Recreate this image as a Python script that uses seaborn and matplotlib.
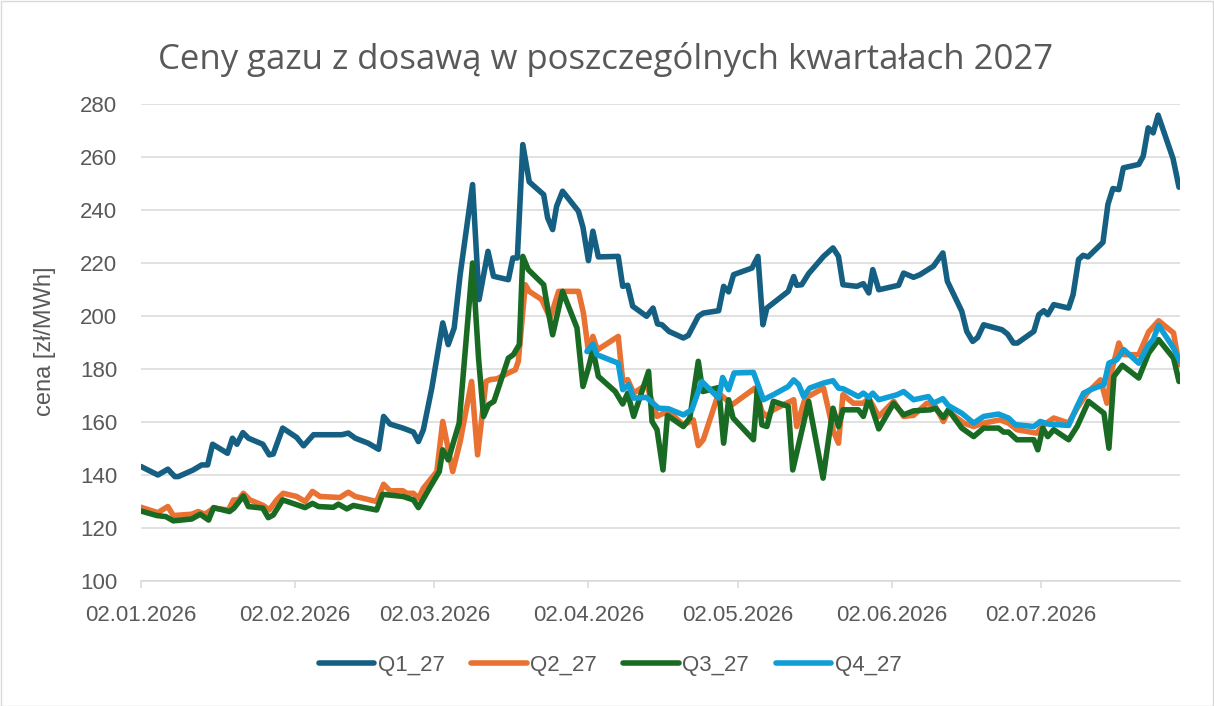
import numpy as np
import pandas as pd
import matplotlib
matplotlib.use("Agg")
import matplotlib.pyplot as plt
import matplotlib.dates as mdates
import seaborn as sns
from matplotlib.patches import Rectangle
from matplotlib.lines import Line2D

# ---------------- data ----------------
base_date = "2026-01-02"
title = "Ceny gazu z dosawą w poszczególnych kwartałach 2027"
y_label = "cena [zł/MWh]"
series_names = ["Q1_27", "Q2_27", "Q3_27", "Q4_27"]
colors = ["#156082", "#E97132", "#196B24", "#0F9ED5"]

# day offsets from base_date and prices
q1_days = [0, 3.4, 5.4, 6.8, 7.5, 10.5, 12.2, 13.4, 14.4, 17.4, 18.4, 19.3, 20.5, 21.6,
           24.5, 25.8, 26.6, 28.5, 31.3, 32.7, 34.7, 40.4, 41.7, 43.1, 45.7, 47.8, 48.8,
           50.1, 52.7, 54.8, 55.8, 56.8, 58.5, 60.7, 61.8, 63.0, 64.2, 66.7, 68.0, 69.8,
           70.9, 73.9, 74.8, 75.7, 76.8, 78.1, 81.0, 81.8, 82.8, 83.6, 84.8, 88.0, 88.9,
           90.0, 90.9, 92.0, 96.0, 96.9, 97.9, 98.9, 101.7, 103.0, 103.9, 104.8, 106.2,
           109.1, 110.1, 112.1, 113.1, 116.2, 117.2, 118.2, 119.2, 122.9, 124.1, 125.1,
           125.9, 130.2, 131.3, 131.9, 132.9, 134.3, 137.3, 139.2, 140.3, 141.2, 144.0,
           145.3, 146.4, 147.2, 148.4, 152.4, 153.4, 155.4, 156.7, 159.4, 161.3, 162.2,
           165.1, 166.1, 167.3, 168.3, 169.5, 173.2, 174.3, 175.5, 176.3, 179.6, 180.6,
           181.6, 182.4, 183.6, 186.6, 187.5, 188.6, 189.5, 190.5, 193.5, 194.5, 195.5,
           196.7, 197.6, 200.7, 201.6, 202.6, 203.6, 204.6, 207.6, 208.8]
q1_vals = [143.2, 140.0, 142.2, 139.4, 139.4, 141.9, 143.8, 143.8, 151.6, 148.2, 153.9, 151.6, 156.0, 153.9,
           151.6, 147.6, 147.9, 157.7, 154.2, 151.0, 155.2, 155.2, 155.8, 153.9, 152.0, 149.7, 162.1,
           159.2, 157.7, 156.2, 152.6, 157.1, 172.8, 197.4, 189.2, 195.5, 215.6, 249.6, 206.2, 224.4,
           215.0, 213.7, 221.9, 221.9, 264.7, 250.6, 245.8, 237.0, 232.6, 241.4, 247.1, 239.5, 233.5,
           220.9, 232.0, 222.3, 222.5, 211.2, 211.6, 203.7, 199.9, 203.0, 197.0, 196.7, 194.2,
           191.7, 192.7, 199.9, 201.1, 202.0, 211.2, 209.1, 215.6, 218.1, 222.5, 196.7,
           203.0, 209.3, 214.9, 211.6, 211.8, 216.0, 222.5, 225.7, 222.5, 211.8, 211.2,
           212.2, 208.7, 217.5, 209.9, 211.6, 216.2, 214.6, 215.6, 218.8, 223.8, 213.1,
           201.8, 194.2, 190.4, 191.9, 196.7, 194.8, 193.2, 189.8, 189.8, 194.2, 200.5,
           202.0, 200.5, 204.3, 203.0, 208.1, 221.3, 222.9, 222.3, 227.8, 242.1, 248.1,
           247.7, 255.9, 257.2, 260.3, 271.0, 269.1, 275.8, 259.4, 248.6]

q2_days = [0, 3.4, 5.4, 6.5, 10.2, 11.5, 12.9, 14.6, 17.6, 18.6, 19.6, 20.6, 21.9, 24.6,
           25.8, 27.3, 28.6, 31.3, 33.0, 34.5, 36.0, 40.0, 41.7, 43.1, 47.4, 48.8, 50.1,
           52.6, 53.5, 54.8, 55.8, 56.8, 59.5, 60.7, 62.7, 64.2, 66.5, 67.7, 69.4, 70.2,
           71.6, 73.9, 75.3, 75.9, 77.3, 78.1, 80.6, 82.3, 84.0, 88.0, 89.0, 90.0, 90.9,
           91.8, 96.0, 96.9, 97.9, 99.1, 101.7, 103.8, 105.1, 106.3, 109.1, 111.1, 112.1,
           113.1, 116.2, 118.9, 123.5, 124.9, 125.8, 127.2, 131.3, 131.9, 133.6, 137.3,
           139.3, 140.3, 141.2, 143.3, 145.3, 146.4, 148.4, 151.4, 153.4, 155.4, 158.1,
           159.8, 161.4, 162.4, 165.5, 167.5, 169.5, 172.8, 174.5, 176.2, 180.2, 181.2,
           183.6, 186.6, 188.3, 190.3, 193.0, 194.3, 195.3, 196.7, 197.7, 200.7, 202.7,
           204.7, 207.7, 208.8]
q2_vals = [127.8, 125.8, 128.1, 124.7, 125.2, 126.2, 125.2, 127.5, 126.8, 130.6, 130.6, 133.1, 130.6, 128.5,
           126.8, 130.6, 133.1, 131.9, 130.0, 133.8, 131.9, 131.5, 133.5, 131.9, 130.0, 136.5, 134.0,
           134.1, 133.1, 133.1, 131.2, 135.0, 141.3, 160.2, 141.3, 152.6, 175.3, 147.6, 175.3, 176.0,
           176.3, 178.5, 179.7, 182.9, 211.8, 209.3, 206.2, 199.2, 209.3, 209.3, 201.1, 186.6, 192.3,
           187.2, 192.3, 175.3, 176.0, 170.9, 174.1, 162.1, 163.3, 163.7, 158.9, 160.8, 151.1,
           153.3, 170.9, 166.5, 172.8, 164.0, 162.1, 164.6, 168.4, 158.3, 169.0, 172.8,
           156.4, 152.0, 170.3, 167.1, 167.1, 169.0, 162.1, 167.8, 162.1, 162.5, 167.1,
           165.9, 160.2, 164.0, 159.6, 158.3, 159.6, 160.8, 159.6, 157.1, 155.8, 158.3,
           161.5, 159.6, 165.2, 170.9, 175.9, 167.1, 179.7, 189.8, 185.4, 185.4, 194.0,
           198.2, 193.6, 181.6]

q3_days = [0, 3.2, 5.0, 6.5, 10.2, 11.9, 13.6, 14.6, 17.8, 18.7, 20.6, 21.6, 24.5, 25.6,
           26.6, 28.5, 33.0, 34.5, 35.7, 38.7, 39.7, 41.4, 42.7, 47.4, 48.6, 52.7, 54.8,
           55.8, 58.2, 60.0, 60.7, 61.8, 64.0, 66.7, 67.9, 68.9, 69.9, 71.0, 73.9, 74.9,
           76.1, 76.8, 77.9, 81.0, 81.8, 82.8, 84.8, 87.7, 88.9, 90.0, 90.9, 92.0, 95.4,
           96.9, 97.9, 99.1, 102.1, 102.8, 103.8, 105.0, 105.9, 109.1, 110.4, 112.1, 113.0,
           116.2, 117.2, 118.2, 119.1, 123.2, 124.0, 124.9, 125.9, 127.2, 130.2, 131.1,
           134.3, 137.2, 139.2, 140.3, 141.2, 144.3, 145.3, 146.4, 148.4, 151.4, 153.4,
           155.4, 158.8, 159.8, 161.4, 162.4, 165.1, 167.5, 169.5, 172.5, 173.5, 174.5,
           176.2, 179.6, 180.4, 181.4, 182.4, 183.6, 186.6, 188.3, 190.6, 193.7, 194.7,
           195.7, 197.4, 200.7, 202.7, 204.7, 207.7, 208.8]
q3_vals = [126.4, 124.7, 124.3, 122.7, 123.4, 125.2, 123.0, 127.7, 126.2, 127.5, 132.1, 128.1, 127.5, 123.9,
           124.9, 130.6, 127.7, 129.3, 128.1, 127.8, 129.0, 127.2, 128.5, 126.8, 132.7, 131.9, 130.6,
           127.7, 135.6, 141.3, 149.5, 145.7, 159.6, 220.0, 184.1, 162.1, 166.5, 167.8, 184.1, 185.4,
           189.2, 222.5, 217.5, 211.8, 203.0, 192.9, 209.3, 195.5, 173.4, 180.4, 187.3, 177.2, 171.5,
           166.8, 170.9, 162.1, 179.1, 160.2, 157.1, 141.9, 162.5, 158.3, 161.5, 182.9, 171.5,
           173.0, 152.0, 168.4, 161.5, 153.3, 172.8, 158.9, 158.3, 167.8, 165.9, 141.9,
           167.8, 138.8, 165.2, 158.3, 164.6, 164.6, 162.1, 168.8, 157.4, 167.1, 162.7,
           164.2, 164.6, 165.2, 161.7, 164.6, 157.7, 154.5, 157.7, 157.7, 156.2, 156.2,
           153.3, 153.3, 149.5, 157.7, 154.5, 157.1, 153.3, 158.3, 167.8, 163.3, 150.1,
           177.2, 181.4, 176.6, 186.0, 191.1, 184.1, 175.3]

q4_days = [89.7, 90.9, 91.7, 96.0, 96.9, 98.1, 99.1, 101.7, 104.1, 106.1, 109.1, 110.8,
           112.8, 116.2, 117.0, 118.2, 119.3, 123.2, 125.2, 127.2, 130.2, 131.3, 132.3,
           133.3, 134.5, 137.3, 139.2, 140.3, 141.3, 144.3, 145.3, 146.4, 147.2, 148.4,
           152.1, 153.4, 155.4, 158.4, 159.4, 161.3, 162.4, 165.1, 167.5, 169.5, 172.5,
           174.5, 175.9, 179.6, 180.9, 182.6, 186.6, 188.3, 189.6, 191.0, 193.7, 194.7,
           196.3, 197.7, 200.7, 202.7, 203.6, 204.7, 207.7, 209.0]
q4_vals = [186.6, 189.4, 185.4, 182.2, 172.2, 174.1, 169.0, 169.3, 165.2, 165.0, 162.7, 164.6,
           175.3, 169.0, 176.8, 172.2, 178.5, 178.7, 168.4, 170.3, 173.4, 175.9, 174.1,
           169.6, 172.8, 174.7, 175.6, 172.8, 172.5, 169.6, 170.9, 169.3, 170.9, 168.4,
           170.3, 171.5, 168.4, 169.6, 167.1, 168.8, 166.2, 163.3, 159.6, 162.1, 163.0,
           161.5, 159.0, 158.3, 160.2, 159.2, 158.7, 165.9, 170.9, 172.2, 174.1, 182.2,
           183.5, 187.3, 182.2, 189.2, 191.1, 196.5, 187.9, 182.9]

# ---------------- build frame ----------------
frames = []
for name, d, v in zip(series_names, [q1_days, q2_days, q3_days, q4_days],
                      [q1_vals, q2_vals, q3_vals, q4_vals]):
    frames.append(pd.DataFrame({
        "data": pd.Timestamp(base_date) + pd.to_timedelta(np.array(d), unit="D"),
        "cena": v,
        "seria": name,
    }))
df = pd.concat(frames, ignore_index=True)

# ---------------- style ----------------
sns.set_theme(style="white")
plt.rcParams["font.family"] = ["Liberation Sans", "DejaVu Sans"]
grey_txt = "#595959"
grid_c = "#D9D9D9"
lw = 4.0

W, H = 1214, 706
fig = plt.figure(figsize=(W / 100, H / 100), dpi=100)
ax = fig.add_axes([141 / W, 1 - 581 / H, (1180 - 141) / W, (581 - 104) / H])

sns.lineplot(data=df, x="data", y="cena", hue="seria", hue_order=series_names,
             palette=dict(zip(series_names, colors)), estimator=None, sort=True,
             linewidth=lw, ax=ax, legend=False)
for ln in ax.get_lines():
    ln.set_solid_joinstyle("round")
    ln.set_solid_capstyle("round")

ax.set_ylim(100, 280)
ax.set_yticks(np.arange(100, 281, 20))
x0 = pd.Timestamp(base_date)
ax.set_xlim(x0, x0 + pd.Timedelta(days=209.0))
ax.xaxis.set_major_locator(mdates.MonthLocator(bymonthday=2))
ax.xaxis.set_major_formatter(mdates.DateFormatter("%d.%m.%Y"))

ax.grid(axis="y", color=grid_c, linewidth=1.1)
ax.grid(axis="x", visible=False)
ax.set_axisbelow(True)
for s in ["left", "right", "top"]:
    ax.spines[s].set_visible(False)
ax.spines["bottom"].set_color(grid_c)
ax.spines["bottom"].set_linewidth(1.1)
ax.tick_params(axis="x", direction="out", length=5, width=1.1, color=grid_c,
               labelsize=16, labelcolor=grey_txt, pad=12, bottom=True)
ax.tick_params(axis="y", length=0, labelsize=16, labelcolor=grey_txt, pad=17)
ax.set_xlabel("")
ax.set_ylabel("")

fig.text(45 / W, 1 - 341 / H, y_label, rotation=90, ha="center", va="center",
         fontsize=17, color=grey_txt)
fig.text(606 / W, 1 - 69 / H, title, ha="center", va="baseline",
         fontsize=25, color=grey_txt, family=["Open Sans", "DejaVu Sans"])

handles = [Line2D([0], [0], color=c, linewidth=lw, solid_capstyle="round") for c in colors]
fig.legend(handles, series_names, loc="center", bbox_to_anchor=(610 / W, 1 - 665 / H),
           ncol=4, frameon=False, fontsize=16, handlelength=2.5, handletextpad=0.15,
           columnspacing=1.2, labelcolor=grey_txt)

fig.patches.append(Rectangle((0.5 / W, 0.5 / H), 1 - 1.5 / W, 1 - 1.5 / H,
                             transform=fig.transFigure, fill=False,
                             edgecolor=grid_c, linewidth=1.0))

fig.savefig("out.png", dpi=100, facecolor="white")
